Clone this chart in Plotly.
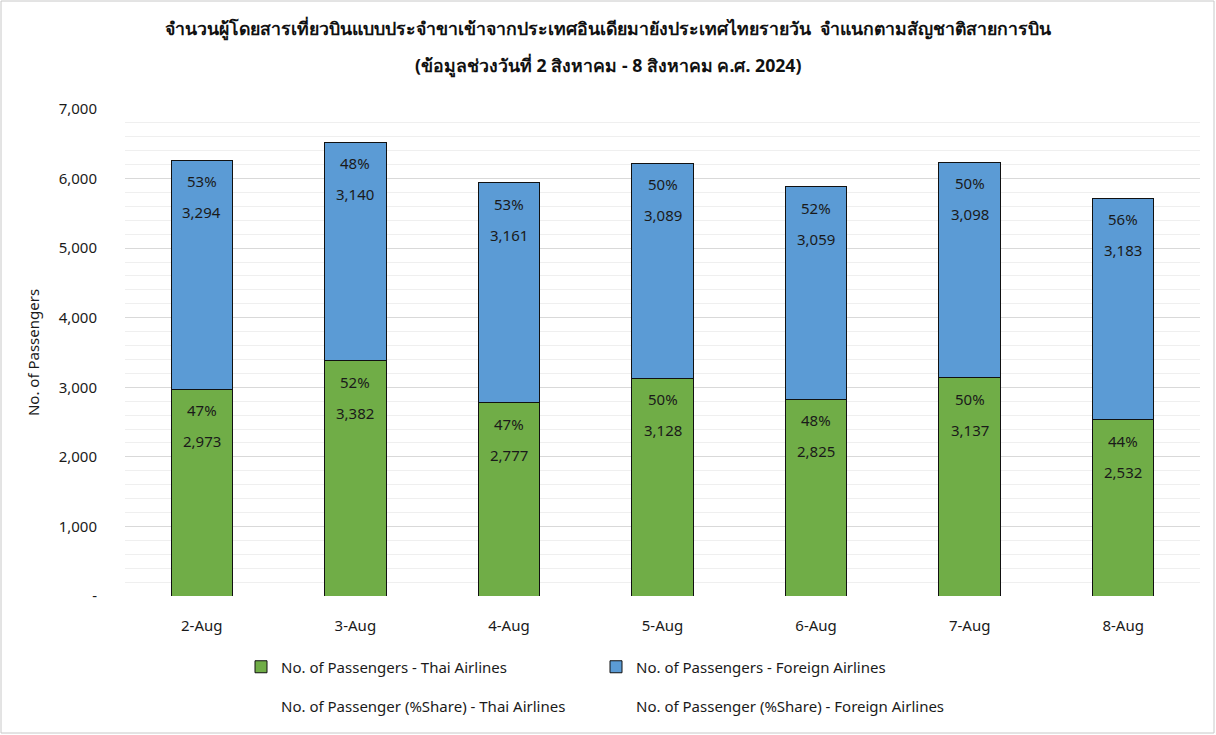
import plotly.graph_objects as go

dates = ["2-Aug", "3-Aug", "4-Aug", "5-Aug", "6-Aug", "7-Aug", "8-Aug"]
thai = [2973, 3382, 2777, 3128, 2825, 3137, 2532]
foreign = [3294, 3140, 3161, 3089, 3059, 3098, 3183]
thai_share = ["47%", "52%", "47%", "50%", "48%", "50%", "44%"]
foreign_share = ["53%", "48%", "53%", "50%", "52%", "50%", "56%"]
ytick_vals = [0, 1000, 2000, 3000, 4000, 5000, 6000, 7000]
ytick_text = ["-", "1,000", "2,000", "3,000", "4,000", "5,000", "6,000", "7,000"]

title_line1 = "จำนวนผู้โดยสารเที่ยวบินแบบประจำขาเข้าจากประเทศอินเดียมายังประเทศไทยรายวัน  จำแนกตามสัญชาติสายการบิน"
title_line2 = "(ข้อมูลช่วงวันที่ 2 สิงหาคม - 8 สิงหาคม ค.ศ. 2024)"

FONT = "Noto Sans, Tahoma, sans-serif"
TFONT = "Noto Sans, Tahoma, sans-serif"
TXT = "#1a1a1a"
FS = 15

fig = go.Figure()
fig.add_trace(go.Bar(
    x=dates, y=thai, name="No. of Passengers - Thai Airlines",
    marker=dict(color="#70ad47", line=dict(color="#111111", width=1)),
    width=0.4, legend="legend", hoverinfo="y"))
fig.add_trace(go.Bar(
    x=dates, y=foreign, name="No. of Passengers - Foreign Airlines",
    marker=dict(color="#5b9bd5", line=dict(color="#111111", width=1)),
    width=0.4, legend="legend", hoverinfo="y"))
fig.add_trace(go.Scatter(
    x=dates, y=[None] * len(dates), mode="lines", line=dict(width=0),
    name="No. of Passenger (%Share) - Thai Airlines", legend="legend2"))
fig.add_trace(go.Scatter(
    x=dates, y=[None] * len(dates), mode="lines", line=dict(width=0),
    name="No. of Passenger (%Share) - Foreign Airlines", legend="legend2"))

W, H = 1216, 735
ML, MR, MT, MB = 125, 16, 109, 139
PW = W - ML - MR
PH = H - MT - MB

ann = []
for i, d in enumerate(dates):
    tops = [(thai[i], thai_share[i], thai[i]), (thai[i] + foreign[i], foreign_share[i], foreign[i])]
    for top, share, val in tops:
        ann.append(dict(x=d, y=top, xref="x", yref="y", text=share, showarrow=False,
                        yanchor="middle", yshift=-21, font=dict(size=FS, color=TXT, family=FONT)))
        ann.append(dict(x=d, y=top, xref="x", yref="y", text=f"{val:,}", showarrow=False,
                        yanchor="middle", yshift=-52, font=dict(size=FS, color=TXT, family=FONT)))

ann.append(dict(text=title_line2, xref="paper", yref="paper", showarrow=False,
                x=(608 - ML) / PW, y=1 + (MT - 66) / PH, xanchor="center", yanchor="middle",
                font=dict(size=17.7, color="#111111", family=TFONT, weight="bold")))

fig.update_layout(
    width=W, height=H,
    margin=dict(l=ML, r=MR, t=MT, b=MB),
    paper_bgcolor="white", plot_bgcolor="white",
    barmode="stack",
    font=dict(family=FONT, size=FS, color=TXT),
    title=dict(text=title_line1, x=0.5, xref="container", xanchor="center",
               y=1 - 29 / H, yref="container", yanchor="middle",
               font=dict(size=17.7, color="#111111", family=TFONT, weight="bold")),
    xaxis=dict(showline=False, ticks="", ticklabelstandoff=19,
               tickfont=dict(size=FS, color=TXT)),
    yaxis=dict(range=[0, 7000], tickvals=ytick_vals, ticktext=ytick_text,
               showgrid=True, gridcolor="#d9d9d9", gridwidth=1, zeroline=False,
               showline=False, ticks="", ticklabelstandoff=27,
               tickfont=dict(size=FS, color=TXT),
               minor=dict(dtick=200, showgrid=True, gridcolor="#efefef", gridwidth=1),
               title=dict(text="No. of Passengers", font=dict(size=FS, color=TXT), standoff=15)),
    legend=dict(orientation="h", xref="container", yref="container",
                x=241 / W, y=1 - 667 / H, xanchor="left", yanchor="middle",
                entrywidth=310, font=dict(size=FS, color=TXT), traceorder="normal"),
    legend2=dict(orientation="h", xref="container", yref="container",
                 x=241 / W, y=1 - 706 / H, xanchor="left", yanchor="middle",
                 entrywidth=310, font=dict(size=FS, color=TXT), traceorder="normal"),
    annotations=ann,
    showlegend=True,
)

fig.add_shape(type="rect", xref="paper", yref="paper",
              x0=(1 - ML) / PW, x1=(W - 2 - ML) / PW,
              y0=-(MB - 2) / PH, y1=(MT - 1) / PH + 1,
              line=dict(color="#c8c8c8", width=1), layer="below")

fig.write_html("out.html")
